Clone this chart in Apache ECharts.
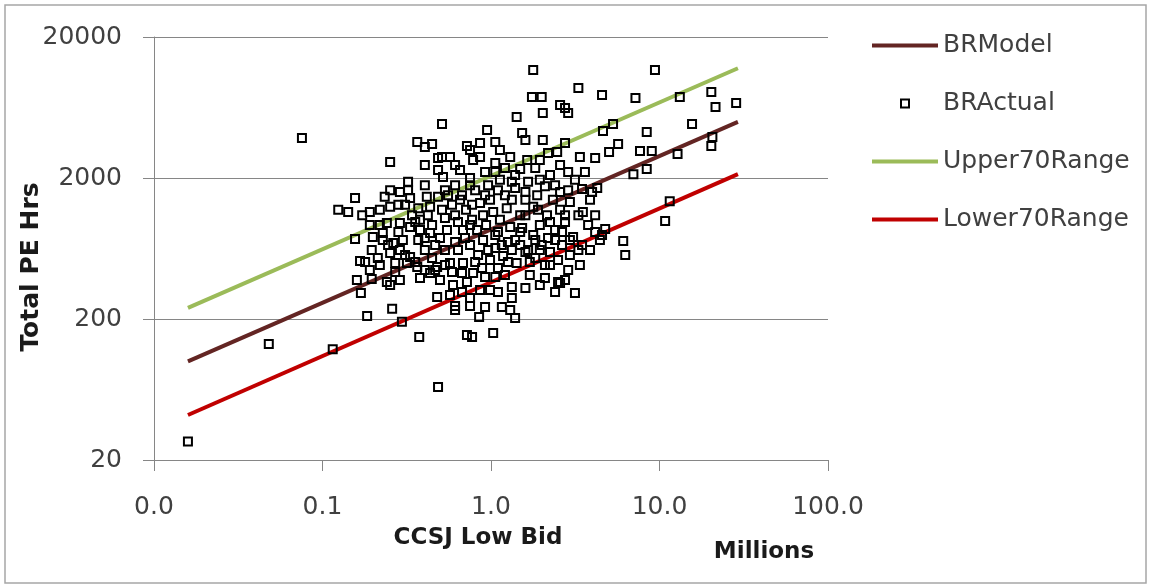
<!DOCTYPE html>
<html><head><meta charset="utf-8">
<script src="https://cdn.jsdelivr.net/npm/echarts@6/dist/echarts.min.js"></script>
<style>html,body{margin:0;padding:0;background:#fff}#c{width:1151px;height:586px}</style>
</head><body><div id="c"></div>
<script>
const seriesNames = ['BRModel', 'BRActual', 'Upper70Range', 'Lower70Range'];
const xTickLabels = ['0.0', '0.1', '1.0', '10.0', '100.0'];
const yTickLabels = ['20', '200', '2000', '20000'];

// fitted lines (CCSJ Low Bid, millions) at the two ends
const lineBid = [0.0159, 29.2];
const brModel = [100, 5000];
const upper70Range = [240, 12000];
const lower70Range = [41.7, 2130];

// BRActual points: low bid (millions) and total PE hours
const actualBid = [
0.0159,0.048,0.0755,0.115,0.184,0.259,0.296,0.375,0.485,0.72,0.772,1.03,0.85,1.39,0.922,1.16,0.612,0.751,1.33,1.60,1.33,1.10,0.987,2.50,2.57,3.15,0.479,0.288,
1.78,9.4,1.75,2.00,3.30,4.56,7.2,13.2,20.3,1.42,2.03,2.57,2.75,2.87,21.5,28.5,0.512,0.948,5.30,15.6,4.62,8.4,
0.365,0.405,0.447,0.861,1.06,1.53,1.60,2.03,2.75,5.68,20.6,20.3,0.72,2.18,2.47,0.252,0.405,0.512,0.571,0.783,
0.861,1.30,1.64,3.37,4.15,5.02,7.66,9.0,12.8,0.485,1.06,1.49,2.87,7.0,8.4,0.485,0.519,0.751,0.322,4.27,
3.98,3.47,11.5,10.8,4.76,4.56,6.09,6.26,3.51,3.77,2.94,3.47,3.07,0.156,0.124,0.142,0.191,0.219,0.234,0.252,
0.288,0.322,0.252,0.331,0.416,0.435,0.485,0.156,0.167,0.196,0.160,0.169,0.196,0.241,0.288,0.331,0.379,0.435,0.199,0.228,
0.179,0.213,0.252,0.288,0.331,0.270,0.317,0.365,0.241,0.252,0.379,0.435,0.479,0.228,0.263,0.300,0.466,0.548,0.682,0.827,
1.30,1.78,0.673,0.783,0.922,1.06,0.571,0.682,1.42,1.60,1.95,2.24,0.612,0.673,0.805,0.961,1.13,1.21,1.39,1.66,
1.88,2.09,2.33,2.57,0.587,0.711,0.861,1.03,1.24,1.49,1.78,2.15,2.57,0.533,0.637,0.772,0.935,1.10,1.53,1.95,
2.40,2.75,0.612,0.751,0.897,1.06,1.26,1.49,1.83,2.18,2.64,0.533,0.838,0.987,1.18,1.70,2.09,2.50,2.94,0.498,
0.595,0.72,0.861,1.21,1.70,2.09,2.87,3.37,0.571,0.405,0.370,0.422,0.370,0.340,0.282,0.219,0.191,0.172,0.405,0.655,
0.922,1.21,1.83,2.24,2.57,3.15,3.61,3.87,3.30,4.15,4.43,3.87,4.15,0.498,0.447,0.612,0.751,1.30,1.95,2.40,
2.75,1.10,1.33,1.60,1.39,0.751,0.612,1.13,1.95,1.06,
0.309,0.355,0.405,0.466,0.533,0.587,0.637,0.701,0.805,0.885,0.961,1.06,1.16,1.26,1.39,1.49,1.66,1.83,2.00,2.24,
2.40,2.64,2.94,3.30,0.612,0.751,0.897,0.987,1.13,1.33,1.60,1.90,2.24,2.75,0.556,0.655,0.772,0.922,1.10,1.33,
1.60,1.95,2.40,2.87,0.379,0.447,0.512,0.282,0.309,0.355,0.405,0.270,0.219,0.191,0.245,0.673,0.751,0.533
];
const actualHrs = [
27,133,3840,122,210,236,191,149,66,154,149,159,207,203,243,243,247,247,282,332,337,311,321,366,360,306,286,378,
11670,11670,7500,7500,8690,7760,7380,7500,8150,5420,5780,6590,6270,5780,6380,6800,4830,4380,4830,4830,4310,4240,
3600,3320,3480,3540,3600,4170,3720,3720,3540,3480,3910,3370,3370,3010,3060,2600,2470,2820,2820,2680,
2820,2820,2680,2820,2770,3060,3110,3110,2960,2770,2550,2320,2210,2130,2320,2280,2030,2000,1880,1700,
1590,1670,1370,990,870,789,715,569,1150,929,1350,670,764,1440,1190,1150,1150,1190,1470,1640,
1590,1640,1250,1440,1470,1250,1470,739,515,617,378,306,385,959,959,898,855,815,764,815,
507,542,587,617,551,499,499,468,366,348,391,424,468,726,692,726,445,855,855,855,
898,789,424,424,397,397,499,499,499,597,617,597,1780,1510,1640,1780,1940,1510,1700,1880,
1510,1750,1400,1590,1290,1190,1330,1150,1220,1090,1250,1090,1190,1040,975,1010,929,827,884,929,
855,975,703,670,726,638,703,670,726,752,670,617,569,524,560,507,483,524,569,378,
348,366,321,410,410,391,445,483,296,617,726,1090,1220,1090,1290,929,929,1090,1780,2280,
2210,2350,2350,2100,2470,1940,2210,1400,1090,1090,726,617,827,752,542,232,282,232,348,311,
378,460,617,1400,2100,3160,2470,3160,2680,2210,
1290,975,752,670,483,431,617,752,507,460,617,789,670,507,726,827,617,542,670,483,
726,827,726,617,1090,929,1090,1400,1010,1400,1090,1190,975,1090,1510,1400,1290,1510,1640,1880,
1590,1940,1780,1640,1010,929,1190,827,569,507,445,431,483,445,670,311,1780,1640
];

const pairs = (xs, ys) => xs.map((x, i) => [x, ys[i]]);
const FONT = 'DejaVu Sans';
const lineColors = { BRModel: '#632523', Upper70Range: '#9BBB59', Lower70Range: '#C00000' };
// small centred square inside the legend icon box (66 x 8)
const squareIcon = 'path://M0,0M66,8M29,0h8v8h-8z';

const chart = echarts.init(document.getElementById('c'), null, { renderer: 'canvas' });
chart.setOption({
  animation: false,
  backgroundColor: '#fff',
  grid: { left: 154, right: 323, top: 37, bottom: 126, containLabel: false },
  xAxis: {
    type: 'log', logBase: 10, min: 0.01, max: 100,
    axisLine: { show: true, lineStyle: { color: '#868686', width: 1 } },
    axisTick: { show: true, length: 11, lineStyle: { color: '#868686' } },
    splitLine: { show: false },
    axisLabel: { margin: 35, color: '#404040', fontFamily: FONT, fontSize: 25,
      formatter: (v, i) => xTickLabels[i] },
  },
  yAxis: {
    type: 'log', logBase: 10, min: 20, max: 20000, interval: 1,
    axisLine: { show: true, lineStyle: { color: '#868686', width: 1 } },
    axisTick: { show: true, length: 11, lineStyle: { color: '#868686' } },
    splitLine: { show: true, lineStyle: { color: '#868686', width: 1 } },
    axisLabel: { margin: 32, color: '#404040', fontFamily: FONT, fontSize: 25,
      formatter: (v, i) => yTickLabels[i] },
  },
  legend: {
    orient: 'vertical', left: 865, top: 28, itemWidth: 66, itemHeight: 8, itemGap: 33,
    lineStyle: { width: 4 },
    textStyle: { fontFamily: FONT, fontSize: 25, color: '#404040' },
    data: seriesNames.map(n => n === 'BRActual'
      ? { name: n, icon: squareIcon }
      : { name: n, itemStyle: { opacity: 0 } }),
  },
  graphic: [
    { type: 'rect', shape: { x: 5, y: 5, width: 1141, height: 578 }, style: { fill: 'none', stroke: '#a6a6a6', lineWidth: 1.5 }, silent: true },
    { type: 'text', x: 31, y: 267, rotation: Math.PI / 2,
      style: { text: 'Total PE Hrs', font: 'bold 25px "DejaVu Sans"', fill: '#1a1a1a', textAlign: 'center', textVerticalAlign: 'middle' } },
    { type: 'text', x: 478, y: 538,
      style: { text: 'CCSJ Low Bid', font: 'bold 23px "DejaVu Sans"', fill: '#1a1a1a', textAlign: 'center', textVerticalAlign: 'middle' } },
    { type: 'text', x: 764, y: 552,
      style: { text: 'Millions', font: 'bold 23px "DejaVu Sans"', fill: '#1a1a1a', textAlign: 'center', textVerticalAlign: 'middle' } },
  ],
  series: [
    { name: 'BRModel', type: 'line', data: pairs(lineBid, brModel), symbol: 'none', z: 2,
      lineStyle: { color: lineColors.BRModel, width: 4 }, itemStyle: { color: lineColors.BRModel } },
    { name: 'Upper70Range', type: 'line', data: pairs(lineBid, upper70Range), symbol: 'none', z: 2,
      lineStyle: { color: lineColors.Upper70Range, width: 4 }, itemStyle: { color: lineColors.Upper70Range } },
    { name: 'Lower70Range', type: 'line', data: pairs(lineBid, lower70Range), symbol: 'none', z: 2,
      lineStyle: { color: lineColors.Lower70Range, width: 4 }, itemStyle: { color: lineColors.Lower70Range } },
    { name: 'BRActual', type: 'scatter', data: pairs(actualBid, actualHrs), symbol: 'rect', symbolSize: 8, z: 3,
      itemStyle: { color: 'rgba(255,255,255,0)', borderColor: '#000', borderWidth: 2, opacity: 1 } },
  ],
});
</script></body></html>
